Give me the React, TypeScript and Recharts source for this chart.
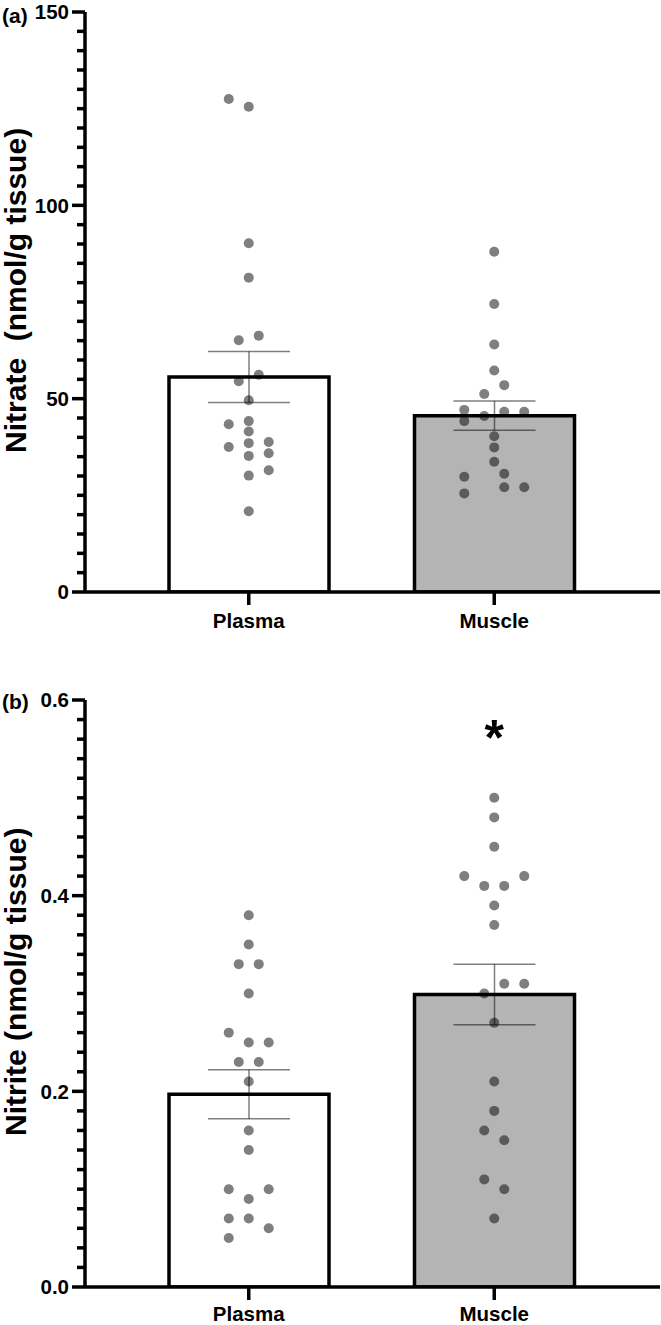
import React from 'react';
import { ComposedChart, Bar, ErrorBar, Scatter, XAxis, YAxis, ReferenceDot, Cell, Label } from 'recharts';

const categories = ['Plasma', 'Muscle'];

// Panel (a) – nitrate
const nitrateMeans = [55.6, 45.6];
const nitrateSem = [6.6, 3.8];
const nitratePlasma = [127.5, 125.5, 90.2, 81.3, 66.3, 65.1, 56.2, 54.5, 49.6, 44.2, 43.4, 41.5, 38.8, 38.5, 37.5, 35.9, 35.2, 31.5, 30.1, 20.9];
const nitratePlasmaCol = [-2, 0, 0, 0, 1, -1, 1, -1, 0, 0, -2, 0, 2, 0, -2, 2, 0, 2, 0, 0];
const nitrateMuscle = [88.0, 74.5, 64.0, 57.3, 53.5, 51.2, 47.1, 46.6, 46.6, 45.5, 44.2, 40.3, 37.4, 33.7, 30.6, 29.8, 27.1, 27.1, 25.5];
const nitrateMuscleCol = [0, 0, 0, 0, 1, -1, -3, 1, 3, -1, -3, 0, 0, 0, 1, -3, 1, 3, -3];
const nitrateTicks = [0, 5, 10, 15, 20, 25, 30, 35, 40, 45, 50, 55, 60, 65, 70, 75, 80, 85, 90, 95, 100, 105, 110, 115, 120, 125, 130, 135, 140, 145, 150];
const nitrateMajor = [0, 50, 100, 150];
const nitrateMajorLabels = ['0', '50', '100', '150'];

// Panel (b) – nitrite
const nitriteMeans = [0.197, 0.299];
const nitriteSem = [0.025, 0.031];
const nitritePlasma = [0.38, 0.35, 0.33, 0.33, 0.30, 0.26, 0.25, 0.25, 0.23, 0.23, 0.21, 0.16, 0.14, 0.10, 0.10, 0.09, 0.07, 0.07, 0.06, 0.05];
const nitritePlasmaCol = [0, 0, -1, 1, 0, -2, 0, 2, -1, 1, 0, 0, 0, -2, 2, 0, -2, 0, 2, -2];
const nitriteMuscle = [0.50, 0.48, 0.45, 0.42, 0.42, 0.41, 0.41, 0.39, 0.37, 0.31, 0.31, 0.30, 0.27, 0.21, 0.18, 0.16, 0.15, 0.11, 0.10, 0.07];
const nitriteMuscleCol = [0, 0, 0, -3, 3, -1, 1, 0, 0, 1, 3, -1, 0, 0, 0, -1, 1, -1, 1, 0];
const nitriteTicks = [0, 0.02, 0.04, 0.06, 0.08, 0.1, 0.12, 0.14, 0.16, 0.18, 0.2, 0.22, 0.24, 0.26, 0.28, 0.3, 0.32, 0.34, 0.36, 0.38, 0.4, 0.42, 0.44, 0.46, 0.48, 0.5, 0.52, 0.54, 0.56, 0.58, 0.6];
const nitriteMajor = [0, 0.2, 0.4, 0.6];
const nitriteMajorLabels = ['0.0', '0.2', '0.4', '0.6'];
const nitriteStarCategory = 'Muscle';
const nitriteStarValue = 0.571;

// styles
const FONT = '"Liberation Sans", Arial, Helvetica, sans-serif';
const BAR_FILLS = ['#ffffff', '#b4b4b4'];
const JIT = 0.0407; // one beeswarm column, in category units
const AXIS_W = 3.5;

type PanelProps = {
  top: number;
  height: number;
  marginTop: number;
  xAxisHeight: number;
  xTickMargin: number;
  means: number[];
  sems: number[];
  groups: number[][];
  cols: number[][];
  domain: [number, number];
  ticks: number[];
  majors: number[];
  majorLabels: string[];
  yLabel: string;
  yLabelFrac: number;
  star?: { cat: string; value: number };
};

function YTick(props: any) {
  const { x, y, payload, majors, majorLabels } = props;
  const v = payload.value;
  const idx = majors.findIndex((m: number) => Math.abs(m - v) < 1e-9);
  const isMajor = idx >= 0;
  const len = isMajor ? 13 : 8;
  return (
    <g>
      <line x1={x - len} y1={y} x2={x} y2={y} stroke="#000" strokeWidth={AXIS_W} />
      {isMajor && (
        <text
          x={x - len - 3}
          y={y}
          dy="0.36em"
          textAnchor="end"
          fontSize={20.5}
          fontWeight="bold"
          fontFamily={FONT}
          fill="#000"
        >
          {majorLabels[idx]}
        </text>
      )}
    </g>
  );
}

function Panel(p: PanelProps) {
  const barData = categories.map((c, i) => ({ name: c, mean: p.means[i], sem: p.sems[i] }));
  const points: { x: number; y: number }[] = [];
  p.groups.forEach((vals, gi) =>
    vals.forEach((v, k) => points.push({ x: gi + p.cols[gi][k] * JIT, y: v }))
  );
  const pad = { left: 41, right: 43 };
  return (
    <div style={{ position: 'absolute', left: 0, top: p.top, width: 661, height: p.height }}>
      <ComposedChart
        width={661}
        height={p.height}
        data={barData}
        margin={{ top: p.marginTop, right: 1, bottom: 0, left: 0 }}
      >
        <XAxis
          dataKey="name"
          height={p.xAxisHeight}
          padding={pad}
          interval={0}
          axisLine={{ stroke: '#000', strokeWidth: AXIS_W }}
          tickLine={{ stroke: '#000', strokeWidth: AXIS_W }}
          tickSize={13}
          tickMargin={p.xTickMargin}
          tick={{ fill: '#000', fontSize: 20.5, fontWeight: 'bold', fontFamily: FONT }}
        />
        <XAxis
          xAxisId="jit"
          type="number"
          dataKey="x"
          domain={[-0.5, 1.5]}
          allowDataOverflow
          padding={pad}
          hide
        />
        <YAxis
          width={85}
          domain={p.domain}
          allowDataOverflow
          ticks={p.ticks}
          interval={0}
          tickSize={0}
          tickMargin={0}
          tickLine={false}
          axisLine={{ stroke: '#000', strokeWidth: AXIS_W }}
          tick={(tp: any) => <YTick {...tp} majors={p.majors} majorLabels={p.majorLabels} />}
        >
          <Label
            content={(lp: any) => {
              const vb = lp.viewBox;
              const cx = vb.x + 26;
              const cy = vb.y + vb.height * p.yLabelFrac;
              return (
                <text
                  x={cx}
                  y={cy}
                  transform={`rotate(-90 ${cx} ${cy})`}
                  textAnchor="middle"
                  fontSize={30}
                  fontWeight="bold"
                  fontFamily={FONT}
                  fill="#000"
                  style={{ whiteSpace: 'pre' }}
                >
                  {p.yLabel}
                </text>
              );
            }}
          />
        </YAxis>
        <Bar dataKey="mean" barSize={160} stroke="#000" strokeWidth={AXIS_W} isAnimationActive={false}>
          {barData.map((d, i) => (
            <Cell key={d.name} fill={BAR_FILLS[i]} />
          ))}
          <ErrorBar dataKey="sem" width={41} stroke="rgba(0,0,0,0.5)" strokeWidth={1.5} direction="y" />
        </Bar>
        <Scatter
          data={points}
          dataKey="y"
          xAxisId="jit"
          isAnimationActive={false}
          shape={(sp: any) => <circle cx={sp.cx} cy={sp.cy} r={5} fill="#000" fillOpacity={0.5} />}
        />
        {p.star && (
          <ReferenceDot
            x={p.star.cat}
            y={p.star.value}
            r={0}
            shape={(rp: any) => (
              <text
                x={rp.cx}
                y={rp.cy}
                dy={27}
                textAnchor="middle"
                fontSize={50}
                fontWeight="bold"
                fontFamily={FONT}
                fill="#000"
              >
                *
              </text>
            )}
          />
        )}
      </ComposedChart>
    </div>
  );
}

const panelLetterStyle: React.CSSProperties = {
  position: 'absolute',
  left: 2,
  fontFamily: FONT,
  fontWeight: 'bold',
  fontSize: 21,
  lineHeight: '21px',
  color: '#000',
};

export default function App() {
  return (
    <div style={{ position: 'absolute', left: 0, top: 0, width: 661, height: 1325, background: '#fff', overflow: 'hidden' }}>
      <Panel
        top={0}
        height={640}
        marginTop={12}
        xAxisHeight={48}
        xTickMargin={8}
        means={nitrateMeans}
        sems={nitrateSem}
        groups={[nitratePlasma, nitrateMuscle]}
        cols={[nitratePlasmaCol, nitrateMuscleCol]}
        domain={[0, 150]}
        ticks={nitrateTicks}
        majors={nitrateMajor}
        majorLabels={nitrateMajorLabels}
        yLabel={'Nitrate  (nmol/g tissue)'}
        yLabelFrac={0.48}
      />
      <Panel
        top={650}
        height={675}
        marginTop={50}
        xAxisHeight={38}
        xTickMargin={6}
        means={nitriteMeans}
        sems={nitriteSem}
        groups={[nitritePlasma, nitriteMuscle]}
        cols={[nitritePlasmaCol, nitriteMuscleCol]}
        domain={[0, 0.6]}
        ticks={nitriteTicks}
        majors={nitriteMajor}
        majorLabels={nitriteMajorLabels}
        yLabel={'Nitrite (nmol/g tissue)'}
        yLabelFrac={0.48}
        star={{ cat: nitriteStarCategory, value: nitriteStarValue }}
      />
      <div style={{ ...panelLetterStyle, top: 5 }}>(a)</div>
      <div style={{ ...panelLetterStyle, top: 691 }}>(b)</div>
    </div>
  );
}
